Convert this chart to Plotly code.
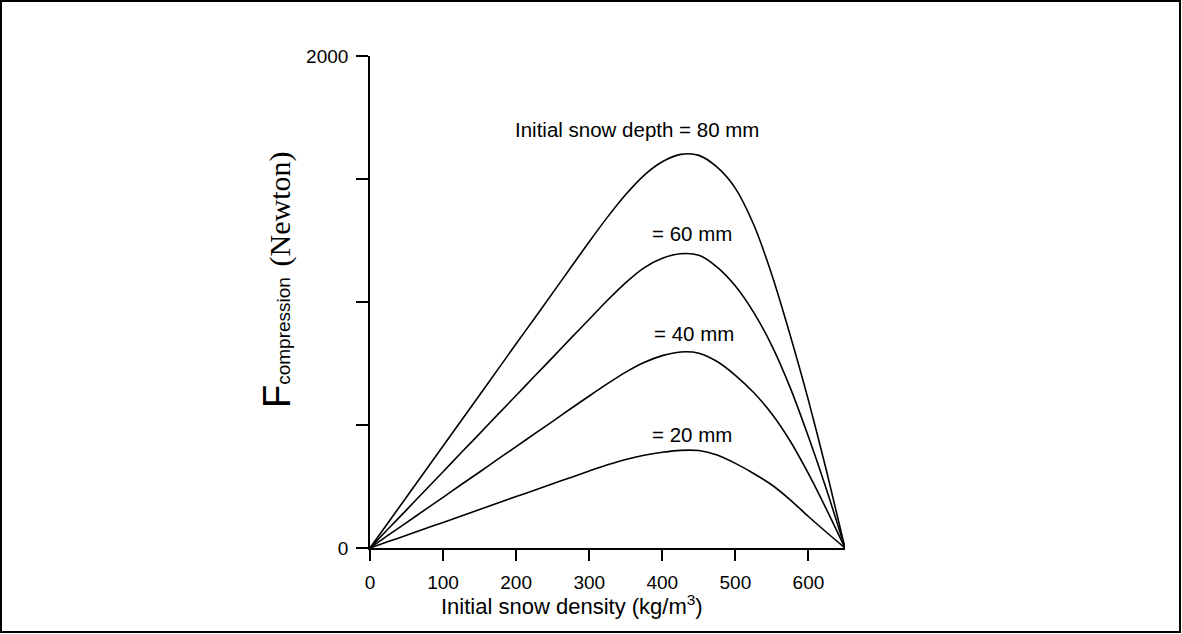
import plotly.graph_objects as go

# Data
density = [0, 25, 50, 75, 100, 125, 150, 175, 200, 225, 250, 275, 300, 325, 350,
           375, 400, 425, 450, 475, 500, 525, 550, 575, 600, 625, 650]
f20 = [0, 26, 52, 78, 104, 130, 157, 183, 209, 235, 261, 287, 313, 338, 360,
       377, 389, 397, 396, 378, 344, 303, 256, 196, 128, 63, 0]
f40 = [0, 52, 103, 155, 206, 258, 309, 361, 412, 464, 515, 567, 618, 668, 715,
       754, 782, 797, 792, 758, 702, 632, 545, 435, 302, 155, 0]
f60 = [0, 78, 155, 233, 310, 388, 465, 543, 620, 698, 775, 853, 930, 1007, 1079,
       1139, 1178, 1196, 1190, 1142, 1065, 958, 822, 652, 452, 235, 0]
f80 = [0, 104, 207, 311, 415, 518, 622, 726, 830, 933, 1037, 1141, 1245, 1345, 1437,
       1515, 1570, 1600, 1596, 1548, 1462, 1315, 1110, 865, 600, 310, 0]
series = [f20, f40, f60, f80]

labels = ["= 20 mm", "= 40 mm", "= 60 mm", "Initial snow depth = 80 mm"]
label_x = [440, 443, 440, 365]
label_y = [463, 870, 1277, 1700]

x_ticks = [0, 100, 200, 300, 400, 500, 600]
y_ticks = [0, 500, 1000, 1500, 2000]
y_ticktext = ["0", "", "", "", "2000"]

W, H = 1182, 634
L, R, T, B = 370, 337, 56, 86
pw, ph = W - L - R, H - T - B

def px2paper_x(px):
    return (px - L) / pw

def px2paper_y(py):
    return (H - B - py) / ph

fig = go.Figure()
for s in series:
    fig.add_trace(go.Scatter(x=density, y=s, mode="lines",
                             line=dict(color="black", width=1.6, shape="spline", smoothing=0.8),
                             showlegend=False, hoverinfo="skip"))

for t, x, y in zip(labels, label_x, label_y):
    fig.add_annotation(x=x, y=y, text=t, showarrow=False, xanchor="center", yanchor="middle",
                       font=dict(family="Liberation Sans", size=20.5, color="black"))

# x-axis title
fig.add_annotation(xref="paper", yref="paper", x=px2paper_x(572), y=px2paper_y(605),
                   xanchor="center", yanchor="middle",
                   text="Initial snow density (kg/m<sup>3</sup>)", showarrow=False,
                   font=dict(family="Liberation Sans", size=22, color="black"))

# y-axis title
fig.add_annotation(xref="paper", yref="paper", x=px2paper_x(277), y=px2paper_y(280),
                   xanchor="center", yanchor="middle",
                   text="F<span style='font-size:19px'>compression</span> "
                        "<span style='font-family:Liberation Serif;font-size:30px'>(Newton)</span>",
                   textangle=-90, showarrow=False,
                   font=dict(family="Liberation Sans", size=38, color="black"))

# outer frame
fig.add_shape(type="rect", xref="paper", yref="paper",
              x0=px2paper_x(1), x1=px2paper_x(1180), y0=px2paper_y(632), y1=px2paper_y(1),
              line=dict(color="black", width=2), fillcolor="rgba(0,0,0,0)")

fig.update_layout(
    width=W, height=H,
    margin=dict(l=L, r=R, t=T, b=B, autoexpand=False),
    paper_bgcolor="white", plot_bgcolor="white",
    font=dict(family="Liberation Sans", color="black"),
    xaxis=dict(range=[0, 650], tickvals=x_ticks, ticks="outside", ticklen=11, tickwidth=1.5,
               tickcolor="black", showline=True, linecolor="black", linewidth=1.6,
               showgrid=False, zeroline=False, ticklabelstandoff=5,
               tickfont=dict(size=19, family="Liberation Sans")),
    yaxis=dict(range=[0, 2000], tickvals=y_ticks, ticktext=y_ticktext, ticks="outside",
               ticklen=12, tickwidth=1.5, tickcolor="black", showline=True, linecolor="black",
               linewidth=1.6, showgrid=False, zeroline=False, ticklabelstandoff=4,
               tickfont=dict(size=19, family="Liberation Sans")),
)

fig.write_html("out.html")
